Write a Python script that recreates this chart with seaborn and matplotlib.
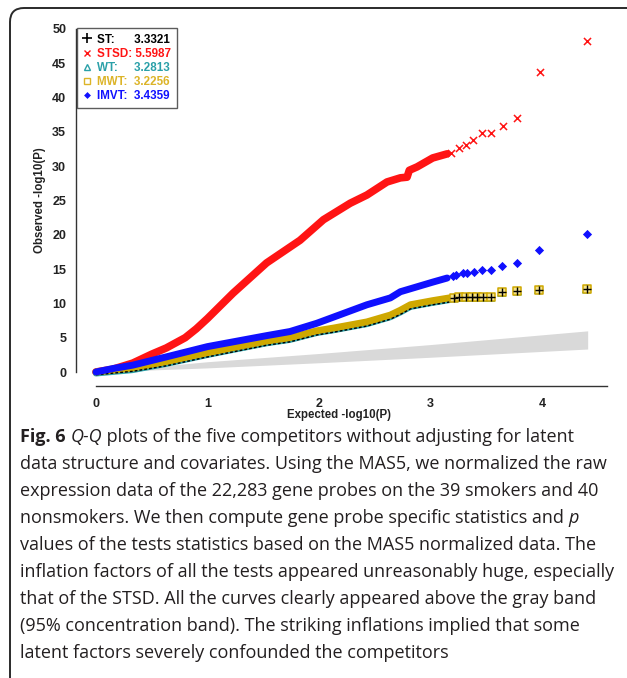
import matplotlib
matplotlib.use("Agg")
import matplotlib.pyplot as plt
import matplotlib.transforms as mtransforms
from matplotlib.lines import Line2D
from matplotlib.path import Path
from matplotlib.patches import PathPatch
import seaborn as sns

sns.set_style("white")
plt.rcParams["font.family"] = ["Liberation Sans", "DejaVu Sans"]

W, H = 627, 678

# grey 95% concentration band
band_x = [0, 1, 2, 3, 4.41]
band_lo = [0, 0.6, 1.35, 2.15, 3.35]
band_hi = [0, 1.5, 2.7, 4.0, 6.0]

# dense bodies of the curves
stsd_x = [0, 0.15, 0.25, 0.33, 0.5, 0.63, 0.8, 0.9, 1.0, 1.23, 1.53, 1.83, 2.04,
          2.28, 2.43, 2.61, 2.73, 2.79, 2.81, 2.88, 3.02, 3.15]
stsd_y = [0, 0.4, 0.9, 1.3, 2.6, 3.5, 5.0, 6.3, 7.8, 11.5, 15.9, 19.2, 22.2,
          24.6, 25.8, 27.7, 28.3, 28.4, 29.4, 29.9, 31.2, 31.8]
imvt_x = [0, 0.15, 0.33, 0.63, 1.0, 1.53, 1.74, 1.98, 2.13, 2.43, 2.64, 2.73, 3.02, 3.15]
imvt_y = [0, 0.5, 1.0, 2.2, 3.7, 5.3, 5.9, 7.1, 8.0, 9.8, 10.8, 11.7, 13.1, 13.7]
mwt_x = [0, 0.33, 0.63, 1.0, 1.53, 1.74, 1.98, 2.13, 2.43, 2.64, 2.73, 2.82, 3.02, 3.17]
mwt_y = [0, 0.6, 1.5, 2.8, 4.5, 5.0, 6.0, 6.4, 7.3, 8.3, 9.0, 9.8, 10.4, 10.8]
wt_y = [-0.2, 0.3, 1.2, 2.5, 4.2, 4.7, 5.7, 6.1, 7.0, 8.0, 8.7, 9.5, 10.1, 10.5]
st_y = [-0.4, 0.1, 0.9, 2.2, 3.9, 4.4, 5.4, 5.8, 6.7, 7.7, 8.4, 9.2, 9.8, 10.2]

# sparse upper tails
stsd_tx = [3.18, 3.26, 3.32, 3.38, 3.46, 3.54, 3.65, 3.78, 3.98, 4.40]
stsd_ty = [31.9, 32.6, 33.1, 33.8, 34.8, 34.8, 35.9, 37.0, 43.7, 48.3]
imvt_tx = [3.20, 3.23, 3.29, 3.33, 3.39, 3.46, 3.54, 3.64, 3.78, 3.97, 4.40]
imvt_ty = [14.0, 14.1, 14.4, 14.5, 14.6, 14.8, 14.8, 15.5, 15.9, 17.8, 20.1]
mwt_tx = [3.21, 3.26, 3.32, 3.37, 3.42, 3.47, 3.54, 3.64, 3.78, 3.97, 4.40]
mwt_ty = [10.8, 10.9, 10.9, 10.9, 10.9, 10.9, 10.9, 11.6, 11.8, 12.0, 12.1]

names = ["ST:", "STSD:", "WT:", "MWT:", "IMVT:"]
inflation = ["3.3321", "5.5987", "3.2813", "3.2256", "3.4359"]
pads = [6, 1, 5, 2, 2]

RED, BLUE, GOLD, TEAL = "#ff1414", "#1010ff", "#cfa800", "#2aa0a8"
GOLD_TXT = "#dcb428"

fig = plt.figure(figsize=(W / 100, H / 100), dpi=100)
ax = fig.add_axes([70 / W, 1 - 392 / H, 545 / W, 372 / H])

ax.fill_between(band_x, band_lo, band_hi, color="#d9d9d9", linewidth=0, zorder=1)

sns.lineplot(x=stsd_x, y=stsd_y, ax=ax, color=RED, linewidth=5.5, sort=False, zorder=2)
sns.scatterplot(x=stsd_tx, y=stsd_ty, ax=ax, marker="x", color=RED, s=26,
                linewidth=1.1, zorder=2)
sns.lineplot(x=mwt_x, y=wt_y, ax=ax, color=TEAL, linewidth=4.5, sort=False, zorder=3)
sns.lineplot(x=mwt_x, y=mwt_y, ax=ax, color=GOLD, linewidth=5, sort=False, zorder=4)
sns.lineplot(x=mwt_x, y=st_y, ax=ax, color="black", linewidth=1.0, sort=False,
             linestyle=(0, (2, 1.5)), zorder=4)
sns.scatterplot(x=mwt_tx, y=mwt_ty, ax=ax, marker="^", s=30, facecolor="none",
                edgecolor=TEAL, linewidth=1.0, zorder=3)
sns.scatterplot(x=mwt_tx, y=mwt_ty, ax=ax, marker="s", s=34, facecolor="#f2e08a",
                edgecolor=GOLD, linewidth=1.1, zorder=4)
sns.scatterplot(x=mwt_tx, y=mwt_ty, ax=ax, marker="+", s=30, color="black",
                linewidth=1.0, zorder=5)
sns.lineplot(x=imvt_x, y=imvt_y, ax=ax, color=BLUE, linewidth=5, sort=False, zorder=6)
sns.scatterplot(x=imvt_tx, y=imvt_ty, ax=ax, marker="D", s=22, color=BLUE,
                linewidth=0, zorder=6)

ax.set_xlim(-0.233, 4.655)
ax.set_ylim(-2.915, 51.31)
for s in ["top", "right"]:
    ax.spines[s].set_visible(False)
ax.spines["left"].set_position(("data", -0.18))
ax.spines["left"].set_bounds(0, 50)
ax.spines["bottom"].set_position(("data", -2.04))
ax.spines["bottom"].set_bounds(0, 4.58)
for s in ["left", "bottom"]:
    ax.spines[s].set_color("#333333")
    ax.spines[s].set_linewidth(1.0)
ax.set_xticks([0, 1, 2, 3, 4])
ax.set_yticks(range(0, 51, 5))
ax.tick_params(axis="both", direction="out", length=5.5, width=1.0, color="#333333",
               labelsize=9, labelcolor="#222222")
ax.tick_params(axis="y", pad=1.5)
ax.tick_params(axis="x", pad=3)
for lab in ax.get_xticklabels() + ax.get_yticklabels():
    lab.set_fontweight("bold")
ax.set_xlabel("")
ax.set_ylabel("")

fig.text(339 / W, 1 - 415 / H, "Expected -log10(P)", ha="center", va="center",
         fontsize=8.3, fontweight="bold", color="#222222")
fig.text(40 / W, 1 - 200 / H, "Observed -log10(P)", ha="center", va="center",
         rotation=90, fontsize=8.3, fontweight="bold", color="#222222")

handles = [
    Line2D([], [], marker="+", color="black", linestyle="none", markersize=7, mew=1.2),
    Line2D([], [], marker="x", color=RED, linestyle="none", markersize=4.5, mew=1.0),
    Line2D([], [], marker="^", color=TEAL, mfc="none", linestyle="none", markersize=5, mew=1.0),
    Line2D([], [], marker="s", color=GOLD_TXT, mfc="none", linestyle="none", markersize=4.5, mew=1.0),
    Line2D([], [], marker="D", color=BLUE, linestyle="none", markersize=3.5, mew=0),
]
labels = [n + " " * p + v for n, p, v in zip(names, pads, inflation)]
leg = ax.legend(handles, labels, loc="upper left", bbox_to_anchor=(0.0123, 0.9793),
                borderaxespad=0, frameon=True, fancybox=False, edgecolor="#333333",
                prop={"weight": "bold", "size": 8.4}, borderpad=0.5, labelspacing=0.18,
                handlelength=0.7, handletextpad=0.55)
leg.get_frame().set_linewidth(1.0)
for t, c in zip(leg.get_texts(), ["black", RED, TEAL, GOLD_TXT, BLUE]):
    t.set_color(c)

# panel frame: only the left and top edges with a rounded corner (pixel coords, y up)
top, left, r = H - 8, 10, 14
frame_path = Path(
    [(left, -5), (left, top - r), (left, top), (left + r, top), (W + 5, top)],
    [Path.MOVETO, Path.LINETO, Path.CURVE3, Path.CURVE3, Path.LINETO])
fig.patches.append(PathPatch(frame_path, transform=mtransforms.IdentityTransform(),
                             facecolor="none", edgecolor="#2a2a2a", linewidth=1.4))

# caption
cap = [
    [("Fig. 6", "bold", "normal"), (" ", "normal", "normal"), ("Q-Q", "normal", "italic"),
     (" plots of the five competitors without adjusting for latent", "normal", "normal")],
    [("data structure and covariates. Using the MAS5, we normalized the raw", "normal", "normal")],
    [("expression data of the 22,283 gene probes on the 39 smokers and 40", "normal", "normal")],
    [("nonsmokers. We then compute gene probe specific statistics and ", "normal", "normal"),
     ("p", "normal", "italic")],
    [("values of the tests statistics based on the MAS5 normalized data. The", "normal", "normal")],
    [("inflation factors of all the tests appeared unreasonably huge, especially", "normal", "normal")],
    [("that of the STSD. All the curves clearly appeared above the gray band", "normal", "normal")],
    [("(95% concentration band). The striking inflations implied that some", "normal", "normal")],
    [("latent factors severely confounded the competitors", "normal", "normal")],
]
CAP_FONT = ["Open Sans", "DejaVu Sans"]
renderer = fig.canvas.get_renderer()
probe = fig.text(0, 0, cap[5][0][0], fontsize=12, family=CAP_FONT)
wpx = probe.get_window_extent(renderer).width
probe.remove()
cap_size = 12 * 592 / wpx

for i, runs in enumerate(cap):
    x = 20
    y = 1 - (437 + 27 * i) / H
    for txt, weight, style in runs:
        t = fig.text(x / W, y, txt, fontsize=cap_size, family=CAP_FONT, fontweight=weight,
                     fontstyle=style, va="center", ha="left", color="#231f20")
        x += t.get_window_extent(renderer).width

fig.savefig("out.png", dpi=100)
